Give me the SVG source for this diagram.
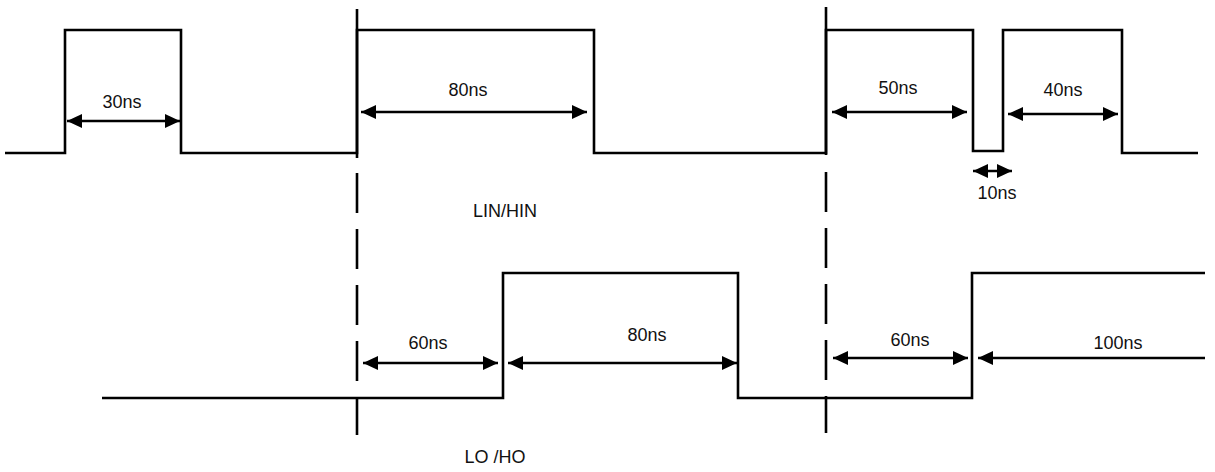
<svg xmlns="http://www.w3.org/2000/svg" width="1215" height="472" viewBox="0 0 1215 472">
<style>
.sig{fill:none;stroke:#000;stroke-width:2.6;stroke-linejoin:miter}
.ref{fill:none;stroke:#000;stroke-width:2.6}
.dash{stroke-dasharray:40 16}
.dim{fill:none;stroke:#000;stroke-width:2.6}
.lbl{font-family:"Liberation Sans",Arial,sans-serif;font-size:18px;fill:#111;text-anchor:middle}
</style>
<defs>
<marker id="ah" markerUnits="userSpaceOnUse" markerWidth="15" markerHeight="14" refX="15" refY="7" orient="auto-start-reverse">
<path d="M0,0 L15,7 L0,14 z" fill="#000"/>
</marker>
</defs>
<rect width="1215" height="472" fill="#fff"/>
<g id="reflines">
<path class="ref" d="M357,9 V158"/>
<path class="ref dash" d="M357,173 V435"/>
<path class="ref" d="M826,7 V155"/>
<path class="ref dash" d="M826,172 V433"/>
</g>
<g id="lin-hin">
<path class="sig" d="M5,153 H65 V30 H181 V153 H357 V30 H594 V153 H826 V30 H973 V151 H1003 V30 H1122 V153 H1198"/>
<text class="lbl" x="505" y="217">LIN/HIN</text>
</g>
<g id="lo-ho">
<path class="sig" d="M102,398 H503 V273 H738 V398 H972 V273 H1205"/>
<text class="lbl" x="495" y="463">LO /HO</text>
</g>
<g id="connectors">
<path class="dim" d="M67,121 H180" marker-start="url(#ah)" marker-end="url(#ah)"/>
<path class="dim" d="M361,112 H587" marker-start="url(#ah)" marker-end="url(#ah)"/>
<path class="dim" d="M832,112 H967" marker-start="url(#ah)" marker-end="url(#ah)"/>
<path class="dim" d="M1008,114 H1118" marker-start="url(#ah)" marker-end="url(#ah)"/>
<path class="dim" d="M973,171 H1012" marker-start="url(#ah)" marker-end="url(#ah)"/>
<path class="dim" d="M363,363 H498" marker-start="url(#ah)" marker-end="url(#ah)"/>
<path class="dim" d="M508,363 H737" marker-start="url(#ah)" marker-end="url(#ah)"/>
<path class="dim" d="M833,358 H968" marker-start="url(#ah)" marker-end="url(#ah)"/>
<path class="dim" d="M1205,358 H978" marker-end="url(#ah)"/>
</g>
<g id="labels">
<text class="lbl" x="122" y="108">30ns</text>
<text class="lbl" x="468" y="96">80ns</text>
<text class="lbl" x="898" y="94">50ns</text>
<text class="lbl" x="1063" y="96">40ns</text>
<text class="lbl" x="997" y="199">10ns</text>
<text class="lbl" x="428" y="349">60ns</text>
<text class="lbl" x="647" y="341">80ns</text>
<text class="lbl" x="910" y="346">60ns</text>
<text class="lbl" x="1118" y="349">100ns</text>
</g>
</svg>
